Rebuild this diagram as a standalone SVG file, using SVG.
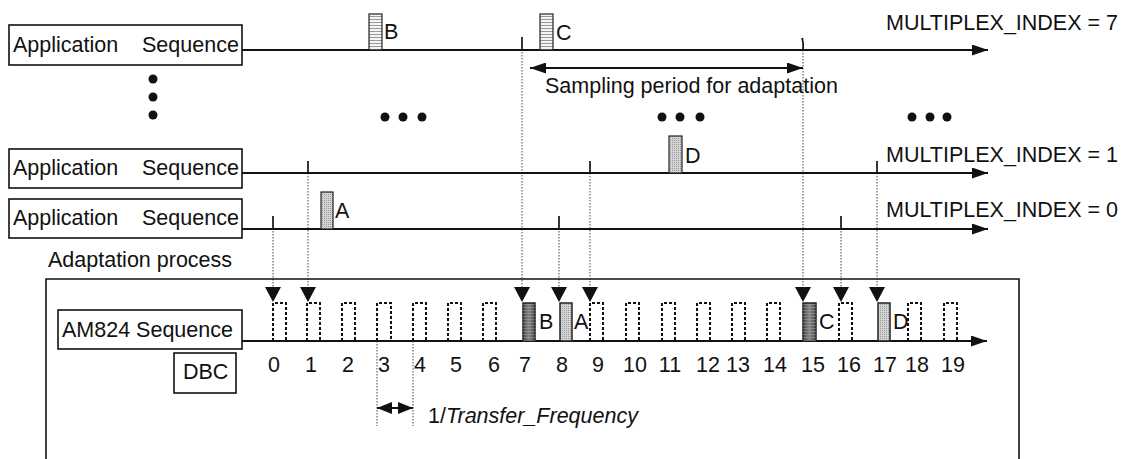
<svg xmlns="http://www.w3.org/2000/svg" width="1127" height="459" viewBox="0 0 1127 459">
<style>
text{font-family:"Liberation Sans",Arial,sans-serif;font-size:21.5px;fill:#111}
.box{fill:#fff;stroke:#111;stroke-width:1.6}
.ln{stroke:#111;stroke-width:1.9;fill:none}
.tick{stroke:#111;stroke-width:1.6}
.dot{stroke:#444;stroke-width:1;stroke-dasharray:1.5 1.5;fill:none}
.pulse{stroke:#111;stroke-width:2;stroke-dasharray:3 2;fill:none}
.tri{fill:#111}
.num{text-anchor:middle}
</style>
<defs>
<pattern id="stripes" width="4" height="3" patternUnits="userSpaceOnUse">
<rect width="4" height="3" fill="#f4f4f4"/>
<line x1="0" y1="1.5" x2="4" y2="1.5" stroke="#999" stroke-width="1"/>
</pattern>
<pattern id="dots" width="2" height="2" patternUnits="userSpaceOnUse">
<rect width="2" height="2" fill="#d4d4d4"/>
<rect width="1" height="1" fill="#999"/>
</pattern>
<linearGradient id="dark" x1="0" y1="0" x2="1" y2="0">
<stop offset="0" stop-color="#444"/>
<stop offset="0.5" stop-color="#888"/>
<stop offset="1" stop-color="#444"/>
</linearGradient>
<pattern id="darkstripes" width="4" height="3" patternUnits="userSpaceOnUse">
<line x1="0" y1="1.5" x2="4" y2="1.5" stroke="#aaa" stroke-width="0.8" opacity="0.6"/>
</pattern>
<marker id="ah" viewBox="0 0 16 11" refX="16" refY="5.5" markerWidth="16" markerHeight="11" markerUnits="userSpaceOnUse" orient="auto-start-reverse">
<path d="M0,0 L16,5.5 L0,11 Z" fill="#111"/>
</marker>
<marker id="ahs" viewBox="0 0 15 12" refX="15" refY="6" markerWidth="15" markerHeight="12" markerUnits="userSpaceOnUse" orient="auto-start-reverse">
<path d="M0,0 L15,6 L0,12 Z" fill="#111"/>
</marker>
</defs>

<g id="connectors">
<line class="dot" x1="273" y1="216" x2="273" y2="288"/>
<line class="dot" x1="308" y1="161" x2="308" y2="288"/>
<line class="dot" x1="522" y1="37" x2="522" y2="288"/>
<line class="dot" x1="559" y1="216" x2="559" y2="288"/>
<line class="dot" x1="590" y1="161" x2="590" y2="288"/>
<line class="dot" x1="803" y1="38" x2="803" y2="288"/>
<line class="dot" x1="841" y1="216" x2="841" y2="288"/>
<line class="dot" x1="877" y1="161" x2="877" y2="288"/>
<line class="dot" x1="377" y1="341" x2="377" y2="426"/>
<line class="dot" x1="413" y1="341" x2="413" y2="426"/>
</g>

<g id="seq7">
<rect class="box" x="9" y="25" width="233" height="40"/>
<text x="13" y="52">Application</text>
<text x="142" y="52">Sequence</text>
<line class="ln" x1="242" y1="50" x2="988" y2="50" marker-end="url(#ah)"/>
<line class="tick" x1="522" y1="37" x2="522" y2="50"/>
<path class="tick" d="M802,38 Q804,44 803,50" fill="none"/>
<rect x="369" y="14" width="13" height="36" fill="url(#stripes)" stroke="#222" stroke-width="1.2"/>
<text x="384" y="39">B</text>
<rect x="540" y="14" width="13" height="36" fill="url(#stripes)" stroke="#222" stroke-width="1.2"/>
<text x="556" y="40">C</text>
<text x="886" y="30">MULTIPLEX_INDEX = 7</text>
</g>

<g id="sampling">
<line class="ln" x1="530" y1="68" x2="803" y2="68" stroke-width="2.4" marker-start="url(#ah)" marker-end="url(#ah)"/>
<text x="545" y="93">Sampling period for adaptation</text>
</g>

<g id="ellipsis">
<circle cx="153" cy="79" r="4.5" fill="#111"/>
<circle cx="153" cy="97" r="4.5" fill="#111"/>
<circle cx="153" cy="115" r="4.5" fill="#111"/>
<circle cx="385" cy="117" r="4.5" fill="#111"/>
<circle cx="403" cy="117" r="4.5" fill="#111"/>
<circle cx="422" cy="117" r="4.5" fill="#111"/>
<circle cx="662" cy="117" r="4.5" fill="#111"/>
<circle cx="680" cy="117" r="4.5" fill="#111"/>
<circle cx="700" cy="117" r="4.5" fill="#111"/>
<circle cx="912" cy="117" r="4.5" fill="#111"/>
<circle cx="930" cy="117" r="4.5" fill="#111"/>
<circle cx="947" cy="117" r="4.5" fill="#111"/>
</g>

<g id="seq1">
<rect class="box" x="9" y="149" width="233" height="39"/>
<text x="13" y="175">Application</text>
<text x="142" y="175">Sequence</text>
<line class="ln" x1="242" y1="173" x2="988" y2="173" marker-end="url(#ah)"/>
<line class="tick" x1="308" y1="161" x2="308" y2="173"/>
<line class="tick" x1="590" y1="161" x2="590" y2="173"/>
<line class="tick" x1="877" y1="161" x2="877" y2="173"/>
<rect x="669" y="136" width="13" height="37" fill="url(#dots)" stroke="#222" stroke-width="1.2"/>
<text x="685" y="163">D</text>
<text x="886" y="162">MULTIPLEX_INDEX = 1</text>
</g>

<g id="seq0">
<rect class="box" x="9" y="199" width="233" height="39"/>
<text x="13" y="225">Application</text>
<text x="142" y="225">Sequence</text>
<line class="ln" x1="242" y1="229" x2="988" y2="229" marker-end="url(#ah)"/>
<line class="tick" x1="273" y1="216" x2="273" y2="229"/>
<line class="tick" x1="559" y1="216" x2="559" y2="229"/>
<line class="tick" x1="841" y1="216" x2="841" y2="229"/>
<rect x="321" y="192" width="12" height="37" fill="url(#dots)" stroke="#222" stroke-width="1.2"/>
<text x="335" y="218">A</text>
<text x="886" y="217">MULTIPLEX_INDEX = 0</text>
</g>

<g id="adaptation">
<text x="48" y="267">Adaptation process</text>
<path d="M46,470 L46,279 L1019,279 L1019,470" fill="none" stroke="#111" stroke-width="1.6"/>
</g>

<g id="am824">
<rect class="box" x="58" y="310" width="184" height="39"/>
<text x="62" y="337">AM824 Sequence</text>
<line class="ln" x1="242" y1="341" x2="987" y2="341" marker-end="url(#ah)"/>
<path class="pulse" d="M273,341 V303 H286 V341"/>
<path class="pulse" d="M307,341 V303 H320 V341"/>
<path class="pulse" d="M342,341 V303 H355 V341"/>
<path class="pulse" d="M377,341 V303 H391 V341"/>
<path class="pulse" d="M413,341 V303 H426 V341"/>
<path class="pulse" d="M448,341 V303 H461 V341"/>
<path class="pulse" d="M483,341 V303 H496 V341"/>
<path class="pulse" d="M590,341 V303 H603 V341"/>
<path class="pulse" d="M626,341 V303 H639 V341"/>
<path class="pulse" d="M662,341 V303 H675 V341"/>
<path class="pulse" d="M697,341 V303 H710 V341"/>
<path class="pulse" d="M732,341 V303 H745 V341"/>
<path class="pulse" d="M767,341 V303 H780 V341"/>
<path class="pulse" d="M839,341 V303 H852 V341"/>
<path class="pulse" d="M908,341 V303 H921 V341"/>
<path class="pulse" d="M944,341 V303 H957 V341"/>
<rect x="523" y="303" width="12" height="38" fill="url(#dark)" stroke="#222" stroke-width="1.5"/>
<rect x="523" y="303" width="12" height="38" fill="url(#darkstripes)"/>
<text x="539" y="329">B</text>
<rect x="560" y="303" width="12" height="38" fill="url(#dots)" stroke="#222" stroke-width="1.5"/>
<text x="574" y="329">A</text>
<rect x="803" y="303" width="13" height="38" fill="url(#dark)" stroke="#222" stroke-width="1.5"/>
<rect x="803" y="303" width="13" height="38" fill="url(#darkstripes)"/>
<text x="819" y="329">C</text>
<rect x="878" y="303" width="12" height="38" fill="url(#dots)" stroke="#222" stroke-width="1.5"/>
<text x="893" y="329">D</text>
<path class="tri" d="M265,287 L281,287 L273,302 Z"/>
<path class="tri" d="M300,287 L316,287 L308,302 Z"/>
<path class="tri" d="M514,287 L530,287 L522,302 Z"/>
<path class="tri" d="M551,287 L567,287 L559,302 Z"/>
<path class="tri" d="M582,287 L598,287 L590,302 Z"/>
<path class="tri" d="M795,287 L811,287 L803,302 Z"/>
<path class="tri" d="M833,287 L849,287 L841,302 Z"/>
<path class="tri" d="M869,287 L885,287 L877,302 Z"/>
</g>

<g id="dbc">
<rect class="box" x="174" y="353" width="62" height="40"/>
<text x="183" y="379">DBC</text>
<text class="num" x="274" y="372">0</text>
<text class="num" x="311" y="372">1</text>
<text class="num" x="348" y="372">2</text>
<text class="num" x="384" y="372">3</text>
<text class="num" x="420" y="372">4</text>
<text class="num" x="456" y="372">5</text>
<text class="num" x="494" y="372">6</text>
<text class="num" x="525" y="372">7</text>
<text class="num" x="562" y="372">8</text>
<text class="num" x="598" y="372">9</text>
<text class="num" x="635" y="372">10</text>
<text class="num" x="670" y="372">11</text>
<text class="num" x="708" y="372">12</text>
<text class="num" x="738" y="372">13</text>
<text class="num" x="775" y="372">14</text>
<text class="num" x="813" y="372">15</text>
<text class="num" x="849" y="372">16</text>
<text class="num" x="885" y="372">17</text>
<text class="num" x="917" y="372">18</text>
<text class="num" x="953" y="372">19</text>
</g>

<g id="transfer">
<line class="ln" x1="377" y1="408" x2="413" y2="408" stroke-width="2" marker-start="url(#ahs)" marker-end="url(#ahs)"/>
<text x="428" y="423">1/<tspan font-style="italic">Transfer_Frequency</tspan></text>
</g>
</svg>
